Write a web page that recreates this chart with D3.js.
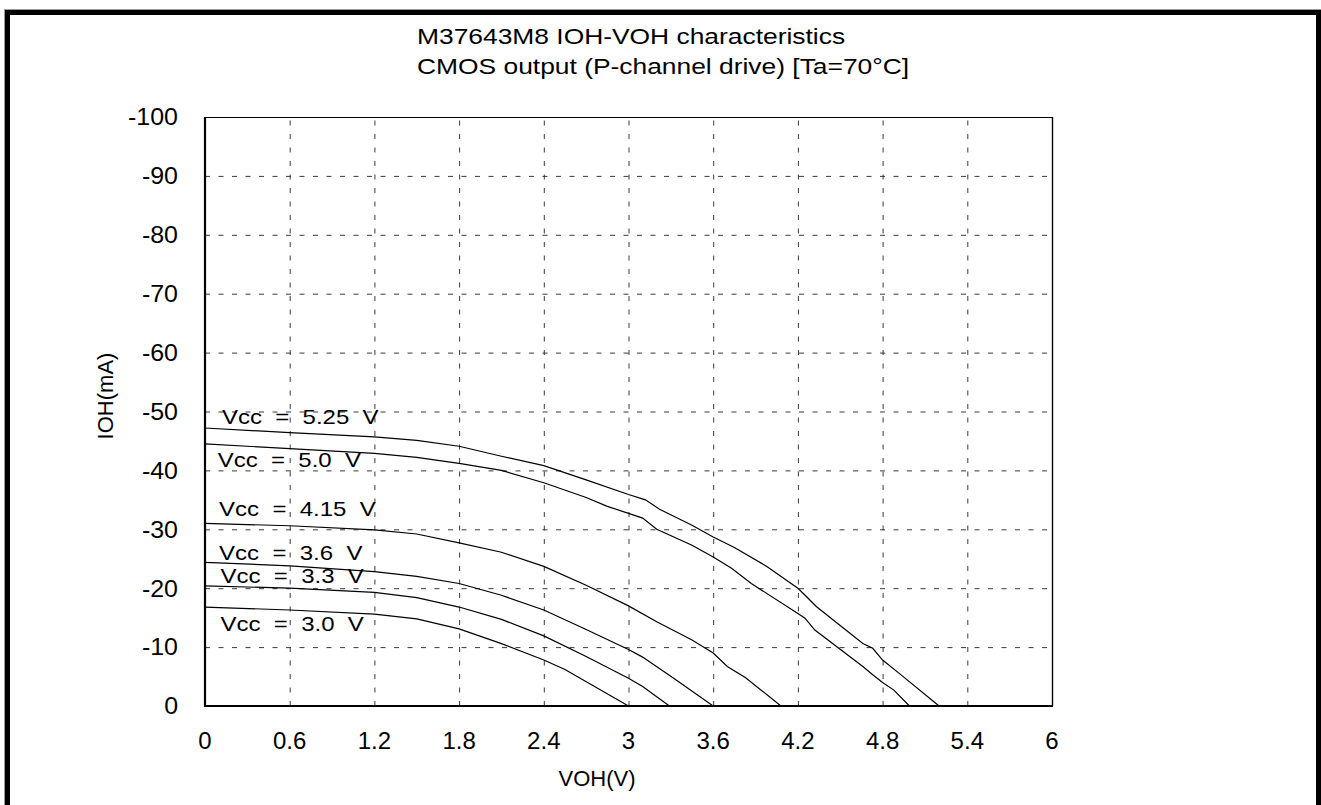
<!DOCTYPE html>
<html>
<head>
<meta charset="utf-8">
<script src="https://cdn.jsdelivr.net/npm/d3@7"></script>
<style>
  html, body { margin: 0; padding: 0; background: #fff; }
  svg { display: block; }
  text { font-family: Arial, "Liberation Sans", Helvetica, sans-serif; fill: #000; }
</style>
</head>
<body>
<svg id="chart" width="1321" height="805"></svg>
<script>
// ---- data (VOH in V, IOH in mA) ----
const titleLines = ["M37643M8 IOH-VOH characteristics", "CMOS output (P-channel drive) [Ta=70°C]"];
const xTicks = [0, 0.6, 1.2, 1.8, 2.4, 3, 3.6, 4.2, 4.8, 5.4, 6];
const xTickLabels = ["0", "0.6", "1.2", "1.8", "2.4", "3", "3.6", "4.2", "4.8", "5.4", "6"];
const yTicks = [0, -10, -20, -30, -40, -50, -60, -70, -80, -90, -100];
const yTickLabels = ["0", "-10", "-20", "-30", "-40", "-50", "-60", "-70", "-80", "-90", "-100"];
const xLabel = "VOH(V)";
const yLabel = "IOH(mA)";

const seriesNames = ["Vcc = 5.25 V", "Vcc = 5.0 V", "Vcc = 4.15 V", "Vcc = 3.6 V", "Vcc = 3.3 V", "Vcc = 3.0 V"];
const vcc525 = [[0,-47.2],[0.6,-46.4],[1.2,-45.7],[1.5,-45.1],[1.8,-44.1],[2.1,-42.4],[2.4,-40.8],[2.7,-38.4],[3.0,-35.9],[3.12,-35.0],[3.22,-33.4],[3.45,-30.7],[3.6,-28.7],[3.75,-26.9],[3.98,-23.7],[4.2,-20.0],[4.26,-18.6],[4.33,-16.9],[4.66,-10.6],[4.73,-9.8],[4.8,-7.8],[4.92,-5.5],[5.2,0]];
const vcc50  = [[0,-44.5],[0.6,-43.7],[1.2,-42.9],[1.5,-42.2],[1.8,-41.2],[2.1,-40.0],[2.4,-37.9],[2.7,-35.4],[2.85,-33.9],[3.0,-32.7],[3.1,-31.9],[3.2,-30.0],[3.45,-27.3],[3.6,-25.3],[3.73,-23.4],[3.87,-20.8],[4.2,-15.7],[4.25,-14.9],[4.32,-12.9],[4.66,-6.7],[4.73,-5.3],[4.8,-4.0],[4.88,-2.7],[4.99,0]];
const vcc415 = [[0,-31.0],[0.6,-30.6],[1.2,-29.9],[1.5,-29.2],[1.8,-27.7],[2.1,-26.1],[2.4,-23.7],[2.7,-20.5],[3.0,-17.0],[3.2,-14.3],[3.45,-11.2],[3.6,-9.0],[3.7,-6.7],[3.83,-4.8],[4.08,0]];
const vcc36  = [[0,-24.4],[0.6,-23.8],[1.2,-22.8],[1.5,-22.0],[1.8,-20.8],[2.1,-18.8],[2.4,-16.3],[2.7,-13.0],[3.0,-9.6],[3.1,-8.3],[3.32,-4.7],[3.6,0]];
const vcc33  = [[0,-20.4],[0.6,-20.0],[1.2,-19.3],[1.5,-18.4],[1.8,-16.8],[2.1,-14.7],[2.4,-11.9],[2.7,-8.4],[3.0,-4.7],[3.1,-3.3],[3.29,0]];
const vcc30  = [[0,-16.8],[0.6,-16.3],[1.2,-15.6],[1.5,-14.8],[1.8,-13.1],[2.1,-10.6],[2.4,-7.8],[2.55,-6.2],[3.0,0]];
// label anchor (VOH, IOH) for each series label
const labelPos = [[0.12,-47.9],[0.09,-40.5],[0.1,-32.2],[0.1,-24.8],[0.11,-20.9],[0.11,-12.7]];

const series = [vcc525, vcc50, vcc415, vcc36, vcc33, vcc30];

// ---- layout ----
const svg = d3.select("#chart");
const W = 1321, H = 805;
const plot = {left: 205, right: 1052, top: 117, bottom: 706};

const x = d3.scaleLinear().domain([0, 6]).range([plot.left, plot.right]);
const y = d3.scaleLinear().domain([0, -100]).range([plot.bottom, plot.top]);

// outer frame
svg.append("rect").attr("x", 4.5).attr("y", 9.5).attr("width", W - 4).attr("height", H)
  .attr("fill", "none").attr("stroke", "#9a9a9a").attr("stroke-width", 1);
svg.append("rect").attr("x", 7.5).attr("y", 12.5).attr("width", W - 10).attr("height", H)
  .attr("fill", "none").attr("stroke", "#000").attr("stroke-width", 5);

// grid
const gridX = svg.append("g").attr("transform", `translate(0,${plot.bottom})`)
  .call(d3.axisBottom(x).tickValues(xTicks.slice(1, -1)).tickSize(-(plot.bottom - plot.top)).tickFormat(""));
const gridY = svg.append("g").attr("transform", `translate(${plot.left},0)`)
  .call(d3.axisLeft(y).tickValues(yTicks.slice(1, -1)).tickSize(-(plot.right - plot.left)).tickFormat(""));
[gridX, gridY].forEach(g => {
  g.select(".domain").remove();
  g.selectAll(".tick line").attr("stroke", "#3a3a3a").attr("stroke-width", 1)
    .attr("stroke-dasharray", "5,8.5");
});

// plot frame: top/right thin, left/bottom thick
svg.append("line").attr("x1", plot.left).attr("x2", plot.right).attr("y1", plot.top + 0.5).attr("y2", plot.top + 0.5)
  .attr("stroke", "#000").attr("stroke-width", 1.2);
svg.append("line").attr("x1", plot.right + 0.5).attr("x2", plot.right + 0.5).attr("y1", plot.top).attr("y2", plot.bottom)
  .attr("stroke", "#000").attr("stroke-width", 1.4);
svg.append("line").attr("x1", plot.left).attr("x2", plot.left).attr("y1", plot.top).attr("y2", plot.bottom + 1)
  .attr("stroke", "#000").attr("stroke-width", 2.2);
svg.append("line").attr("x1", plot.left - 1).attr("x2", plot.right + 1).attr("y1", plot.bottom).attr("y2", plot.bottom)
  .attr("stroke", "#000").attr("stroke-width", 2.2);

// curves
const line = d3.line().x(d => x(d[0])).y(d => y(d[1]));
svg.append("g").selectAll("path").data(series).join("path")
  .attr("d", line).attr("fill", "none").attr("stroke", "#000").attr("stroke-width", 1.2);

// series labels (horizontally stretched like the source)
svg.append("g").selectAll("text").data(seriesNames).join("text")
  .attr("transform", (d, i) => `translate(${x(labelPos[i][0])},${y(labelPos[i][1])}) scale(1.2,1)`)
  .attr("font-size", 20)
  .style("white-space", "pre")
  .attr("xml:space", "preserve")
  .text(d => d.replace(/ /g, "  "));

// tick labels
svg.append("g").selectAll("text").data(xTicks).join("text")
  .attr("transform", d => `translate(${x(d)},${plot.bottom + 34})`)
  .attr("text-anchor", "middle").attr("dominant-baseline", "central")
  .attr("font-size", 24)
  .text((d, i) => xTickLabels[i]);
svg.append("g").selectAll("text").data(yTicks).join("text")
  .attr("transform", d => `translate(${plot.left - 27},${y(d)}) scale(1.04,1)`)
  .attr("text-anchor", "end").attr("dominant-baseline", "central")
  .attr("font-size", 24)
  .text((d, i) => yTickLabels[i]);

// axis titles
svg.append("text")
  .attr("transform", `translate(597,${plot.bottom + 72})`)
  .attr("text-anchor", "middle").attr("dominant-baseline", "central")
  .attr("font-size", 22).text(xLabel);
svg.append("text")
  .attr("transform", `translate(105,396) rotate(-90)`)
  .attr("text-anchor", "middle").attr("dominant-baseline", "central")
  .attr("font-size", 22).text(yLabel);

// title
svg.append("g").selectAll("text").data(titleLines).join("text")
  .attr("transform", (d, i) => `translate(417,${44 + i * 30}) scale(1.2,1)`)
  .attr("font-size", 22)
  .text(d => d);
</script>
</body>
</html>
